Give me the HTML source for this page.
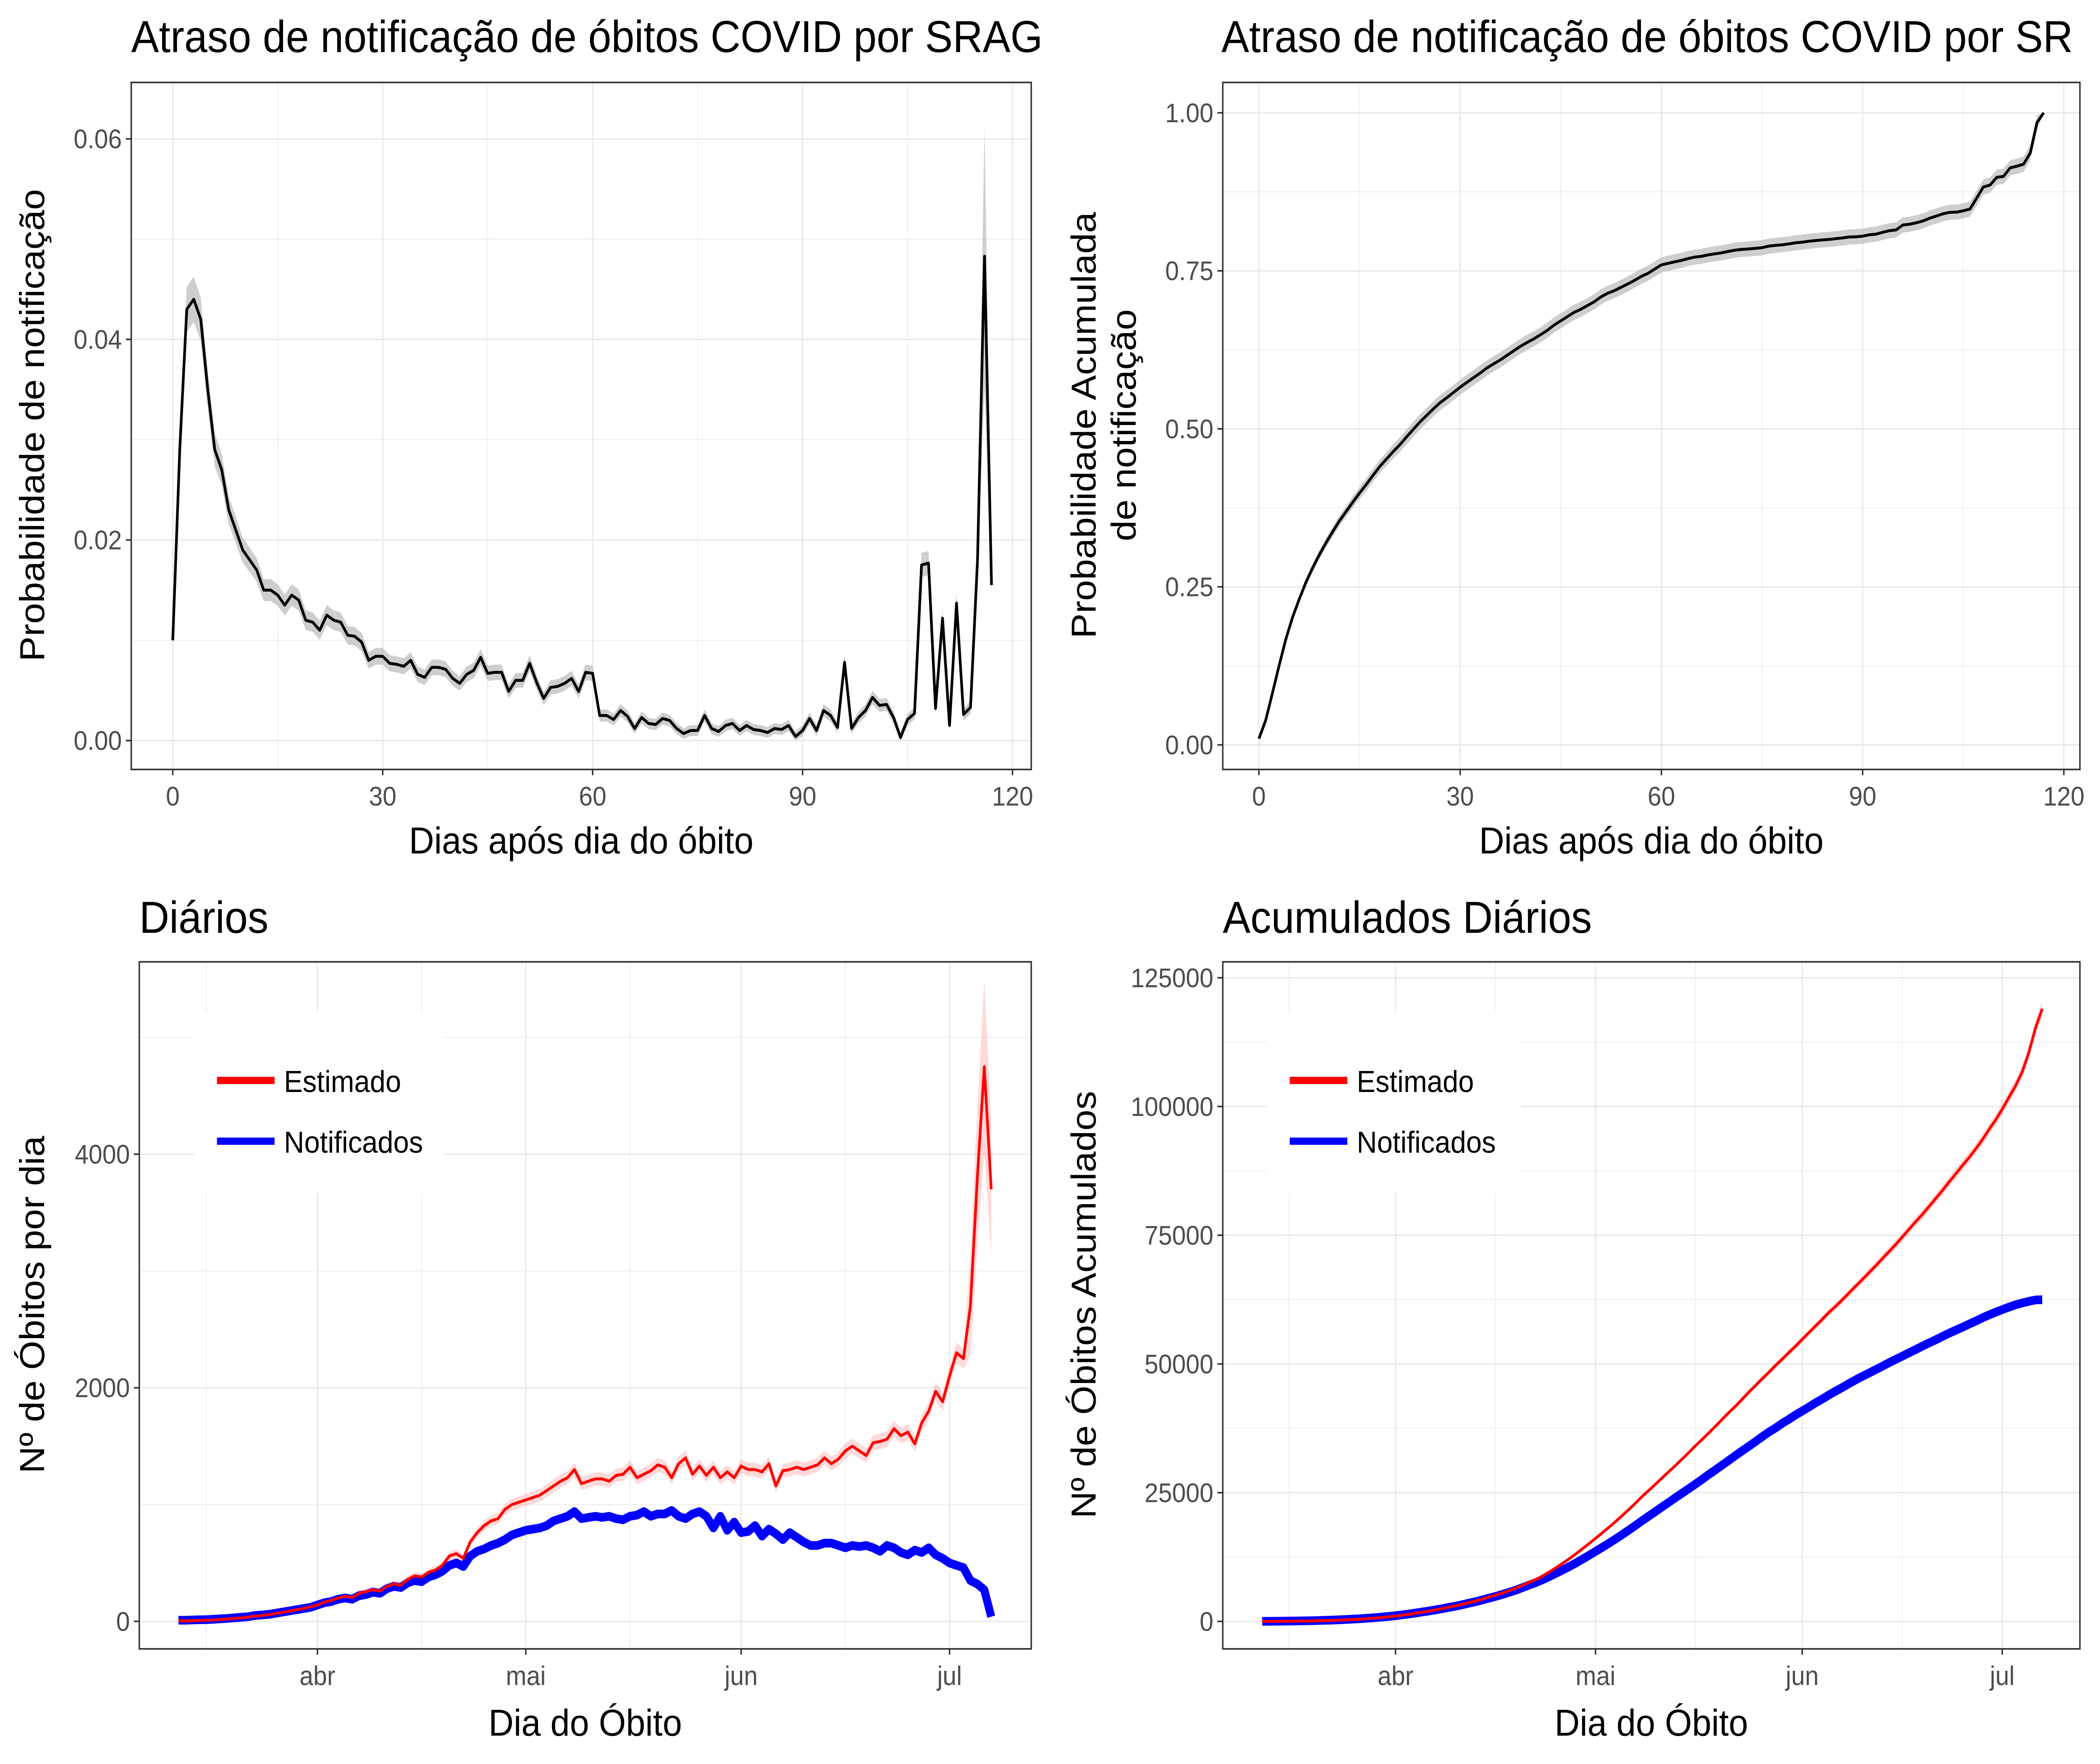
<!DOCTYPE html>
<html><head><meta charset="utf-8"><style>
html,body{margin:0;padding:0;background:#fff;overflow:hidden}
svg{display:block;overflow:hidden;width:100vw;height:100vh}
text{font-family:"Liberation Sans",Arial,sans-serif}
</style></head><body>
<svg id="fig" xmlns="http://www.w3.org/2000/svg" viewBox="0 0 1568 1219.6" preserveAspectRatio="none">
<defs>
<clipPath id="titleclip"><rect x="0" y="0" width="784" height="60"/></clipPath>
</defs>
<rect x="0" y="0" width="1568" height="1219.6" fill="#fff"/>
<g id="root"></g>
</svg>
<script>
// ---- Data ----
const delayDays = Array.from({length:118},(_, i)=>i);
const probNotif = [0.010,0.029,0.043,0.044,0.042,0.035,0.029,0.027,0.023,0.021,0.019,0.018,0.017,0.015,0.015,0.0145,0.0135,0.0145,0.014,0.012,
0.0118,0.011,0.0125,0.012,0.0118,0.0105,0.0104,0.0098,0.008,0.0084,0.0084,0.0077,0.0076,0.0074,0.008,0.0066,0.0063,0.0073,0.0073,0.0071,
0.0062,0.0057,0.0066,0.007,0.0083,0.0067,0.0068,0.0068,0.0049,0.006,0.006,0.0077,0.0058,0.0042,0.0053,0.0054,0.0057,0.0062,0.0049,0.0068,
0.0067,0.0025,0.0025,0.0021,0.003,0.0024,0.0012,0.0023,0.0017,0.0016,0.0022,0.002,0.0012,0.0007,0.001,0.001,0.0025,0.0012,0.0009,0.0015,
0.0017,0.001,0.0015,0.0011,0.001,0.0008,0.0012,0.0011,0.0015,0.0004,0.001,0.0022,0.001,0.003,0.0025,0.0013,0.0078,0.0012,0.0023,0.003,
0.0043,0.0035,0.0036,0.0023,0.0003,0.0021,0.0027,0.0175,0.0177,0.0032,0.0122,0.0015,0.0137,0.0026,0.0033,0.018,0.0483,0.0155];
const probTicks = [0,0.02,0.04,0.06];
const probTickLabels = ["0.00","0.02","0.04","0.06"];
const dayTicks = [0,30,60,90,120];
const cumTicks = [0,0.25,0.5,0.75,1];
const cumTickLabels = ["0.00","0.25","0.50","0.75","1.00"];

const startDate = "2020-03-12";
const notificados = [10,10,12,14,15,18,22,25,30,35,40,50,55,60,70,80,90,100,110,120,
140,160,170,190,200,190,220,230,250,240,280,300,290,330,350,340,380,400,430,480,500,470,560,600,620,650,670,700,740,760,
780,790,800,820,860,880,900,940,880,890,900,890,900,880,870,900,910,940,900,920,920,950,900,880,920,940,900,800,900,780,850,
760,770,820,730,790,750,700,760,720,680,650,650,670,670,650,630,650,640,650,630,600,650,630,590,570,610,590,630,570,540,
500,480,460,350,320,270,40];
const estimado = [5,5,6,8,10,12,16,20,25,30,36,45,50,58,68,78,88,100,110,125,
140,165,180,200,215,205,240,255,270,260,300,320,310,360,390,380,420,440,480,560,580,540,680,760,820,860,880,960,1000,1020,
1040,1060,1080,1120,1160,1200,1230,1300,1180,1200,1220,1220,1200,1250,1260,1320,1230,1260,1290,1340,1320,1230,1350,1400,1260,1330,1250,1320,1230,1280,1230,
1330,1300,1300,1280,1350,1160,1290,1300,1320,1300,1320,1340,1400,1350,1390,1460,1500,1460,1420,1530,1540,1560,1650,1590,1620,1520,1700,1800,1970,1880,
2100,2300,2250,2700,3800,4750,3700];
const monthLabels = ["abr","mai","jun","jul"];
const monthDates = ["2020-04-01","2020-05-01","2020-06-01","2020-07-01"];
const minorDates = ["2020-03-16","2020-04-16","2020-05-16","2020-06-16"];
const dailyTicks = [0,2000,4000];
const dailyMinor = [1000,3000,5000];
const cumDailyTicks = [0,25000,50000,75000,100000,125000];

// ---- helpers ----
const NS="http://www.w3.org/2000/svg";
const root=document.getElementById('root');
const FT=31, FA=26, FK=18.5, FL=21;
function mk(tag,attrs,parent){const e=document.createElementNS(NS,tag);for(const k in attrs)e.setAttribute(k,attrs[k]);(parent||root).appendChild(e);return e;}
function lin(d0,d1,r0,r1){return v=>r0+(v-d0)*(r1-r0)/(d1-d0);}
const dayMs=86400000, t0=Date.parse(startDate);
function dIdx(s){return (Date.parse(s)-t0)/dayMs;}
function pathD(xs,ys){return xs.map((x,i)=>(i?'L':'M')+x.toFixed(2)+','+ys[i].toFixed(2)).join('');}
function bandD(xs,lo,hi){let d=pathD(xs,hi);for(let i=xs.length-1;i>=0;i--)d+='L'+xs[i].toFixed(2)+','+lo[i].toFixed(2);return d+'Z';}

function panel(name,L,T,R,B){
  const g=mk('g',{});
  mk('rect',{x:L,y:T,width:R-L,height:B-T,fill:'#fff'},g);
  return g;
}
function hgrid(g,L,R,y,major){mk('line',{x1:L,x2:R,y1:y,y2:y,stroke:'#ebebeb','stroke-width':major?1.1:0.55},g);}
function vgrid(g,T,B,x,major){mk('line',{x1:x,x2:x,y1:T,y2:B,stroke:'#ebebeb','stroke-width':major?1.1:0.55},g);}
function border(g,L,T,R,B){const r=mk('rect',{x:L,y:T,width:R-L,height:B-T,fill:'none',stroke:'#333','stroke-width':1.1},g);}
function ytick(g,L,y,label){mk('line',{x1:L-4,x2:L,y1:y,y2:y,stroke:'#333','stroke-width':1.1},g);const t=mk('text',{x:L-7,y:y+6.5,'text-anchor':'end','font-size':FK,fill:'#4d4d4d'},g);t.textContent=label;}
function xtick(g,B,x,label){mk('line',{x1:x,x2:x,y1:B,y2:B+4,stroke:'#333','stroke-width':1.1},g);const t=mk('text',{x:x,y:B+25,'text-anchor':'middle','font-size':FK,fill:'#4d4d4d'},g);t.textContent=label;}
function txt(g,s,attrs,name){const t=mk('text',attrs,g);t.textContent=s;return t;}

// ---- Panel 1: delay probability ----
(function(){
  const L=98,T=57,R=770,B=532;
  const g=panel('delay-probability-panel',L,T,R,B);
  const x=lin(0,120,129,756), y=lin(0,0.06,512,96);
  [0.01,0.03,0.05].forEach(v=>hgrid(g,L,R,y(v),false));
  [15,45,75,105].forEach(v=>vgrid(g,T,B,x(v),false));
  probTicks.forEach(v=>hgrid(g,L,R,y(v),true));
  dayTicks.forEach(v=>vgrid(g,T,B,x(v),true));
  const xs=delayDays.map(x);
  const hw=probNotif.map(v=>0.0005+0.04*v+(v>0.045?0.22*v:0));
  const band=mk('path',{d:bandD(xs,probNotif.map((v,i)=>y(Math.max(0,v-hw[i]))),probNotif.map((v,i)=>y(v+hw[i]))),fill:'#bdbdbd','fill-opacity':0.75},g);
  
  const ln=mk('path',{d:pathD(xs,probNotif.map(y)),fill:'none',stroke:'#000','stroke-width':2,'stroke-linejoin':'round'},g);
  
  border(g,L,T,R,B);
  probTicks.forEach((v,i)=>ytick(g,L,y(v),probTickLabels[i]));
  dayTicks.forEach(v=>xtick(g,B,x(v),String(v)));
  txt(g,'Dias após dia do óbito',{x:434,y:590,'text-anchor':'middle','font-size':FA,fill:'#000'},'x-axis-title');
  txt(g,'Probabilidade de notificação',{x:0,y:0,transform:'translate(33,294) rotate(-90)','text-anchor':'middle','font-size':FA,fill:'#000'},'y-axis-title');
  txt(g,'Atraso de notificação de óbitos COVID por SRAG',{x:98,y:36,'font-size':FT,fill:'#000','clip-path':'url(#titleclip)'},'chart-title');
})();

// ---- Panel 2: cumulative probability ----
(function(){
  const L=913,T=57,R=1553,B=532;
  const g=panel('cumulative-probability-panel',L,T,R,B);
  const x=lin(0,120,940,1541), y=lin(0,1,515,78);
  [0.125,0.375,0.625,0.875].forEach(v=>hgrid(g,L,R,y(v),false));
  [15,45,75,105].forEach(v=>vgrid(g,T,B,x(v),false));
  cumTicks.forEach(v=>hgrid(g,L,R,y(v),true));
  dayTicks.forEach(v=>vgrid(g,T,B,x(v),true));
  const tot=probNotif.reduce((a,b)=>a+b,0);let s=0;
  const cum=probNotif.map(v=>(s+=v)/tot);
  const xs=delayDays.map(x);
  const hw=cum.map(v=>0.012*Math.min(1,v*2)*(v>0.99?0:1));
  const band=mk('path',{d:bandD(xs,cum.map((v,i)=>y(v-hw[i])),cum.map((v,i)=>y(v+hw[i]))),fill:'#bdbdbd','fill-opacity':0.75},g);
  
  const ln=mk('path',{d:pathD(xs,cum.map(y)),fill:'none',stroke:'#000','stroke-width':2,'stroke-linejoin':'round'},g);
  
  border(g,L,T,R,B);
  cumTicks.forEach((v,i)=>ytick(g,L,y(v),cumTickLabels[i]));
  dayTicks.forEach(v=>xtick(g,B,x(v),String(v)));
  txt(g,'Dias após dia do óbito',{x:1233,y:590,'text-anchor':'middle','font-size':FA,fill:'#000'},'x-axis-title');
  txt(g,'Probabilidade Acumulada',{x:0,y:0,transform:'translate(818,294) rotate(-90)','text-anchor':'middle','font-size':FA,fill:'#000'},'y-axis-title-line1');
  txt(g,'de notificação',{x:0,y:0,transform:'translate(848,294) rotate(-90)','text-anchor':'middle','font-size':FA,fill:'#000'},'y-axis-title-line2');
  txt(g,'Atraso de notificação de óbitos COVID por SR',{x:912,y:36,'font-size':FT,fill:'#000'},'chart-title');
})();

function legend(g,bx,bw){
  const r=mk('rect',{x:bx,y:700,width:bw,height:125,fill:'#fff'},g);
  
  const e1=mk('line',{x1:bx+17,x2:bx+60,y1:747,y2:747,stroke:'#f00','stroke-width':5},g);
  
  txt(g,'Estimado',{x:bx+67,y:755,'font-size':FL,fill:'#000'},'legend-label-estimado');
  const e2=mk('line',{x1:bx+17,x2:bx+60,y1:789,y2:789,stroke:'#00f','stroke-width':5},g);
  
  txt(g,'Notificados',{x:bx+67,y:797,'font-size':FL,fill:'#000'},'legend-label-notificados');
}

// ---- Panel 3: daily ----
(function(){
  const L=104,T=665,R=770,B=1140;
  const g=panel('daily-deaths-panel',L,T,R,B);
  const x=lin(dIdx('2020-04-01'),dIdx('2020-07-01'),237,709), y=lin(0,4000,1121,798);
  dailyMinor.forEach(v=>hgrid(g,L,R,y(v),false));
  minorDates.forEach(d=>vgrid(g,T,B,x(dIdx(d)),false));
  dailyTicks.forEach(v=>hgrid(g,L,R,y(v),true));
  monthDates.forEach(d=>vgrid(g,T,B,x(dIdx(d)),true));
  const xs=estimado.map((_,i)=>x(i));
  const n=estimado.length;
  const hw=estimado.map((v,i)=>20+0.03*v+(i>=n-4?0.12*v:0));
  const band=mk('path',{d:bandD(xs,estimado.map((v,i)=>y(v-hw[i])),estimado.map((v,i)=>y(v+hw[i]))),fill:'#f00','fill-opacity':0.15},g);
  
  const bl=mk('path',{d:pathD(notificados.map((_,i)=>x(i)),notificados.map(y)),fill:'none',stroke:'#00f','stroke-width':6,'stroke-linejoin':'round'},g);
  
  const rl=mk('path',{d:pathD(xs,estimado.map(y)),fill:'none',stroke:'#f00','stroke-width':2,'stroke-linejoin':'round'},g);
  
  legend(g,145,187);
  border(g,L,T,R,B);
  dailyTicks.forEach(v=>ytick(g,L,y(v),String(v)));
  monthDates.forEach((d,i)=>xtick(g,B,x(dIdx(d)),monthLabels[i]));
  txt(g,'Dia do Óbito',{x:437,y:1200,'text-anchor':'middle','font-size':FA,fill:'#000'},'x-axis-title');
  txt(g,'Nº de Óbitos por dia',{x:0,y:0,transform:'translate(33,902) rotate(-90)','text-anchor':'middle','font-size':FA,fill:'#000'},'y-axis-title');
  txt(g,'Diários',{x:104,y:645,'font-size':FT,fill:'#000'},'chart-title');
})();

// ---- Panel 4: cumulative daily ----
(function(){
  const L=913,T=665,R=1553,B=1140;
  const g=panel('cumulative-deaths-panel',L,T,R,B);
  const x=lin(dIdx('2020-04-01'),dIdx('2020-07-01'),1042,1495), y=lin(0,125000,1121,676);
  [12500,37500,62500,87500,112500].forEach(v=>hgrid(g,L,R,y(v),false));
  minorDates.forEach(d=>vgrid(g,T,B,x(dIdx(d)),false));
  cumDailyTicks.forEach(v=>hgrid(g,L,R,y(v),true));
  monthDates.forEach(d=>vgrid(g,T,B,x(dIdx(d)),true));
  let s1=0,s2=0;
  const cumE=estimado.map(v=>s1+=v), cumN=notificados.map(v=>s2+=v);
  const xs=cumE.map((_,i)=>x(i));
  const hw=cumE.map(v=>0.012*v);
  const band=mk('path',{d:bandD(xs,cumE.map((v,i)=>y(v-hw[i])),cumE.map((v,i)=>y(v+hw[i]))),fill:'#f00','fill-opacity':0.15},g);
  
  const bl=mk('path',{d:pathD(xs,cumN.map(y)),fill:'none',stroke:'#00f','stroke-width':6,'stroke-linejoin':'round'},g);
  
  const rl=mk('path',{d:pathD(xs,cumE.map(y)),fill:'none',stroke:'#f00','stroke-width':2,'stroke-linejoin':'round'},g);
  
  legend(g,946,190);
  border(g,L,T,R,B);
  cumDailyTicks.forEach(v=>ytick(g,L,y(v),String(v)));
  monthDates.forEach((d,i)=>xtick(g,B,x(dIdx(d)),monthLabels[i]));
  txt(g,'Dia do Óbito',{x:1233,y:1200,'text-anchor':'middle','font-size':FA,fill:'#000'},'x-axis-title');
  txt(g,'Nº de Óbitos Acumulados',{x:0,y:0,transform:'translate(818,902) rotate(-90)','text-anchor':'middle','font-size':FA,fill:'#000'},'y-axis-title');
  txt(g,'Acumulados Diários',{x:913,y:645,'font-size':FT,fill:'#000'},'chart-title');
})();
</script>
</body></html>
